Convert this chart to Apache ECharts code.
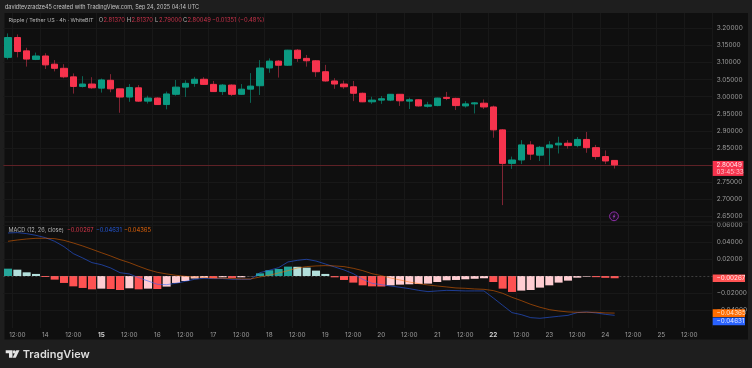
<!DOCTYPE html>
<html><head><meta charset="utf-8">
<style>html,body{margin:0;padding:0;background:#1e1e1e;overflow:hidden}#c{width:752px;height:368px}</style>
<script src="https://cdn.jsdelivr.net/npm/echarts@6/dist/echarts.min.js"></script>
</head><body><div id="c"></div>
<script>
const opens=[3.115,3.173,3.134,3.109,3.119,3.095,3.083,3.058,3.030,3.037,3.025,3.048,3.023,2.999,3.026,2.987,2.996,2.977,3.007,3.028,3.039,3.051,3.036,3.015,3.034,3.007,3.022,3.032,3.084,3.104,3.092,3.136,3.112,3.105,3.073,3.046,3.037,3.029,3.010,2.985,2.990,2.990,3.007,2.987,2.991,2.972,2.974,2.998,2.995,2.973,2.979,2.981,2.970,2.903,2.805,2.815,2.859,2.829,2.851,2.859,2.864,2.857,2.875,2.851,2.825,2.8137];
const highs=[3.185,3.182,3.143,3.129,3.127,3.107,3.095,3.068,3.060,3.057,3.053,3.066,3.023,3.037,3.034,3.003,2.998,3.015,3.049,3.048,3.058,3.057,3.046,3.037,3.036,3.037,3.069,3.107,3.112,3.107,3.137,3.139,3.122,3.107,3.093,3.054,3.047,3.046,3.012,3.000,3.002,3.008,3.008,2.997,2.992,2.985,2.997,3.014,2.997,2.987,2.984,2.992,2.974,2.905,2.825,2.873,2.870,2.856,2.870,2.883,2.873,2.882,2.897,2.859,2.843,2.8137];
const lows=[3.109,3.115,3.088,3.107,3.081,3.074,3.054,3.009,3.027,3.023,3.012,3.013,2.953,2.985,2.985,2.980,2.976,2.963,3.003,2.999,3.029,3.035,3.014,3.005,3.002,3.006,2.982,3.005,3.070,3.056,3.090,3.102,3.088,3.058,3.044,3.023,3.023,2.987,2.984,2.979,2.979,2.987,2.973,2.964,2.971,2.968,2.972,2.990,2.961,2.968,2.951,2.964,2.880,2.683,2.789,2.803,2.815,2.812,2.799,2.834,2.848,2.852,2.836,2.816,2.803,2.790];
const closes=[3.173,3.132,3.110,3.119,3.093,3.083,3.058,3.030,3.037,3.026,3.049,3.023,2.999,3.027,2.987,2.996,2.977,3.008,3.028,3.039,3.051,3.036,3.015,3.034,3.007,3.022,3.031,3.084,3.104,3.092,3.136,3.112,3.105,3.073,3.046,3.037,3.029,3.010,2.985,2.990,2.994,3.007,2.988,2.991,2.973,2.976,2.996,2.995,2.974,2.979,2.982,2.970,2.903,2.805,2.815,2.859,2.832,2.852,2.859,2.864,2.857,2.875,2.851,2.825,2.812,2.80049];
const histogram=[.0086,.0074,.0043,.0024,-.0012,-.0043,-.0082,-.0122,-.0141,-.0157,-.0149,-.0153,-.0165,-.0145,-.0157,-.0149,-.0153,-.0125,-.0082,-.0059,-.003,-.0023,-.0027,-.0016,-.0023,-.0016,-.0002,.0031,.0067,.0082,.011,.0108,.0098,.0063,.0024,-.0016,-.0047,-.0078,-.011,-.0122,-.0124,-.011,-.0102,-.0098,-.0094,-.009,-.0071,-.0051,-.0047,-.0039,-.0033,-.0027,-.0071,-.0149,-.0188,-.0172,-.0165,-.0137,-.011,-.0078,-.0055,-.002,-.0008,-.0014,-.0022,-.00267];
const macdLine=[.0506,.051,.0498,.0478,.0451,.0408,.0345,.0263,.0212,.0157,.0133,.0094,.0039,.0024,-.002,-.0059,-.0098,-.0102,-.0086,-.0063,-.0039,-.0027,-.0031,-.0031,-.0039,-.0039,-.0039,.0039,.0067,.0098,.0165,.0184,.0196,.0176,.0141,.0106,.0071,.0027,-.0039,-.0086,-.0102,-.0118,-.0133,-.0149,-.0169,-.0184,-.0176,-.0169,-.0172,-.0176,-.0176,-.0176,-.0259,-.0345,-.0431,-.0455,-.049,-.0498,-.0486,-.0474,-.0463,-.0431,-.0423,-.0435,-.0451,-.04631];
const signalLine=[.0408,.0423,.0435,.0443,.0443,.0439,.0419,.0388,.0353,.0314,.0274,.0235,.0192,.0157,.0114,.0074,.0043,.0024,.0008,-.0004,-.0012,-.0016,-.0024,-.0027,-.0031,-.0035,-.0035,-.0012,.0008,.0035,.0063,.0094,.011,.0118,.0122,.0118,.011,.009,.0063,.0027,.0004,-.0024,-.0047,-.0071,-.009,-.0106,-.0118,-.0129,-.0141,-.0145,-.0153,-.0157,-.0172,-.0204,-.0251,-.029,-.0333,-.0368,-.0396,-.0412,-.0423,-.0427,-.0427,-.0427,-.0435,-.04365];
const timeTicks=['12:00','14','12:00','15','12:00','16','12:00','17','12:00','18','12:00','19','12:00','20','12:00','21','12:00','22','12:00','23','12:00','24','12:00','25','12:00'];
const boldTicks=['15','22'];
const priceTicks=[3.2,3.15,3.1,3.05,3,2.95,2.9,2.85,2.8,2.75,2.7,2.65];
const macdTicks=[.06,.04,.02,-.02,-.04];

const SLOTS=76;
const categories=[];
for(let i=0;i<SLOTS;i++)categories.push((i-1)%3===0?timeTicks[(i-1)/3]:'');
const isTick=i=>(i-1)%3===0;
const AXIS='#9c9c9c',GRID='#181818',FONT='Inter, "Liberation Sans", sans-serif';
const RED='#f7334d',GREEN='#0b9a82',RW='#7f2433',GW='#0b6454';
const fmt=v=>(v<0?'\u2212':'')+Math.abs(v).toFixed(5);
const wicks=opens.map((o,i)=>[o,closes[i],lows[i],highs[i]]);
const bodies=opens.map((o,i)=>[o,closes[i],Math.min(o,closes[i]),Math.max(o,closes[i])]);
const histColor=i=>{const v=histogram[i],p=i?histogram[i-1]:-1;
  return v>=0?(v>p?'#26a69a':'#b2dfdb'):(v>p?'#ffcdd2':'#ff5252');};

const chart=echarts.init(document.getElementById('c'),null,{renderer:'canvas'});
const xAxisBase={type:'category',data:categories,boundaryGap:true,axisLine:{show:false},axisTick:{show:false},
  splitLine:{show:true,interval:i=>isTick(i),lineStyle:{color:GRID,width:1}}};
const yAxisBase={type:'value',position:'right',scale:true,axisLine:{show:false},
  splitLine:{show:true,lineStyle:{color:GRID,width:1}}};
chart.setOption({
  animation:false,backgroundColor:'#1e1e1e',
  grid:[{left:3.33,top:13,width:709.3,height:208.5,containLabel:false},
        {left:3.33,top:222.5,width:709.3,height:105.5,containLabel:false}],
  xAxis:[Object.assign({gridIndex:0,axisLabel:{show:false}},xAxisBase),
    Object.assign({gridIndex:1,axisLabel:{show:true,interval:i=>isTick(i),color:AXIS,fontSize:6.4,fontFamily:FONT,margin:4.5,
      formatter:v=>boldTicks.includes(v)?'{b|'+v+'}':v,rich:{b:{fontWeight:'bold',color:'#d0d0d0',fontSize:6.4,fontFamily:FONT}}}},xAxisBase)],
  yAxis:[Object.assign({gridIndex:0,min:2.6351,max:3.2447,
      axisTick:{show:false,customValues:priceTicks},
      axisLabel:{customValues:priceTicks,color:AXIS,fontSize:6.5,fontFamily:FONT,margin:4,formatter:v=>v.toFixed(5)}},yAxisBase),
    Object.assign({gridIndex:1,min:-.0612,max:.0629,
      axisTick:{show:false,customValues:macdTicks},
      axisLabel:{customValues:macdTicks,color:AXIS,fontSize:6.5,fontFamily:FONT,margin:4,formatter:fmt}},yAxisBase)],
  series:[
    {type:'candlestick',name:'wicks',xAxisIndex:0,yAxisIndex:0,barWidth:1,z:2,data:wicks,clip:true,
     itemStyle:{color:RW,color0:RW,borderColor:GW,borderColor0:RW,borderWidth:1},
     markLine:{silent:true,symbol:'none',label:{show:false},animation:false,
       lineStyle:{color:'rgba(242,54,69,.32)',width:1,type:'solid'},data:[{yAxis:closes[closes.length-1]}]}},
    {type:'candlestick',name:'bodies',xAxisIndex:0,yAxisIndex:0,barWidth:7,z:3,data:bodies,
     itemStyle:{color:GREEN,color0:RED,borderColor:GREEN,borderColor0:RED,borderWidth:1}},
    {type:'line',name:'zero',xAxisIndex:1,yAxisIndex:1,data:[],z:1,
     markLine:{silent:true,symbol:'none',label:{show:false},animation:false,
       lineStyle:{color:'rgba(130,130,130,.4)',width:1,type:[2,2]},data:[{yAxis:0}]}},
    {type:'bar',name:'Histogram',xAxisIndex:1,yAxisIndex:1,barWidth:8,z:2,
     data:histogram.map((v,i)=>({value:v,itemStyle:{color:histColor(i)}}))},
    {type:'line',name:'MACD',xAxisIndex:1,yAxisIndex:1,data:macdLine,symbol:'none',z:4,
     lineStyle:{color:'#2962ff',width:1,opacity:.55}},
    {type:'line',name:'Signal',xAxisIndex:1,yAxisIndex:1,data:signalLine,symbol:'none',z:4,
     lineStyle:{color:'#ff6d00',width:1,opacity:.5}}
  ],
  graphic:[{type:'rect',z:-1,silent:true,shape:{x:4.5,y:13,width:743.5,height:326.5},style:{fill:'#0f0f0f'}}]
});

const txt=(text,x,y,fill,size,w)=>({type:'text',z:60,silent:true,x:x,y:y,
  style:{text:text,fill:fill,font:(w||'400')+' '+size+'px '+FONT,textVerticalAlign:'middle'}});
const LAST=closes.length-1;
const px=(yi,v)=>chart.convertToPixel({yAxisIndex:yi},v);
const tag=(yc,h,fill,lines,x2)=>{const out=[{type:'rect',z:50,silent:true,shape:{x:712.7,y:yc-h/2,width:x2-712.7,height:h},style:{fill:fill}}];
  lines.forEach((l,i)=>out.push(txt(l.t,716.5,yc+(i-(lines.length-1)/2)*7.4,l.c,6.3)));return out;};
const priceY=px(0,closes[LAST]), histY=px(1,histogram[LAST]), sigY=px(1,signalLine[LAST]), macY=px(1,macdLine[LAST]);
const S=5.8;
const els=[{type:'rect',z:-1,silent:true,shape:{x:4.5,y:13,width:743.5,height:326.5},style:{fill:'#0f0f0f'}},
  {type:'rect',z:30,silent:true,shape:{x:4.5,y:221.5,width:743.5,height:1},style:{fill:'#1e1e1e'}},
  txt('davidtevzradze45 created with TradingView.com, Sep 24, 2025 04:14 UTC',5,7,'#c4c4c4',5.5),
  txt('Ripple / Tether US \u00b7 4h \u00b7 WhiteBIT',8.5,20,'#b4b4b4',5.4),
  txt('O',98.7,20,'#b4b4b4',S),txt('2.81370',103.5,20,'#c8324a',S),
  txt('H',126.8,20,'#b4b4b4',S),txt('2.81370',131.5,20,'#c8324a',S),
  txt('L',155,20,'#b4b4b4',S),txt('2.79000',159,20,'#c8324a',S),
  txt('C',183,20,'#b4b4b4',S),txt('2.80049',187.5,20,'#c8324a',S),
  txt('\u22120.01351 (\u22120.48%)',212,20,'#c8324a',S),
  txt('MACD (12, 26, close)',8.5,230,'#b4b4b4',5.6),
  txt(fmt(histogram[LAST]),67,230,'#d8364a',S),
  txt(fmt(macdLine[LAST]),96,230,'#2458d8',S),
  txt(fmt(signalLine[LAST]),124,230,'#e0630a',S),
  {type:'circle',z:30,silent:true,shape:{cx:614,cy:216.3,r:4.4},style:{fill:'#1a1020',stroke:'#8e2fa8',lineWidth:1}},
  {type:'polygon',z:31,silent:true,shape:{points:[[615,213.5],[612.6,216.8],[613.9,216.8],[613,219.2],[615.5,215.8],[614.2,215.8]]},style:{fill:'#a03cbc'}},
  {type:'polygon',z:30,silent:true,shape:{points:[[5.7,350.3],[12.5,350.3],[12.5,357.7],[9,357.7],[9,353.3],[5.7,353.3]]},style:{fill:'#e4e4e4'}},
  {type:'circle',z:30,silent:true,shape:{cx:14.2,cy:351.9,r:1.6},style:{fill:'#e4e4e4'}},
  {type:'polygon',z:30,silent:true,shape:{points:[[16.3,350.3],[19.5,350.3],[15.8,357.7],[12.6,357.7]]},style:{fill:'#e4e4e4'}},
  txt('TradingView',22.7,354.2,'#dedede',11,'600')
];
els.push(...tag(priceY+3.5,15,'#f7334d',[{t:closes[LAST].toFixed(5),c:'#ffe6ea'},{t:'03:45:33',c:'#ffc4cc'}],743.5));
els.push(...tag(histY,7.6,'#ff5252',[{t:fmt(histogram[LAST]),c:'#ffe6e6'}],745));
els.push(...tag(sigY,7.6,'#ff6d00',[{t:fmt(signalLine[LAST]),c:'#ffe6d2'}],745));
els.push(...tag(macY+6,7.6,'#2962ff',[{t:fmt(macdLine[LAST]),c:'#dfe7ff'}],745));
chart.setOption({graphic:els},{replaceMerge:['graphic']});
</script></body></html>
